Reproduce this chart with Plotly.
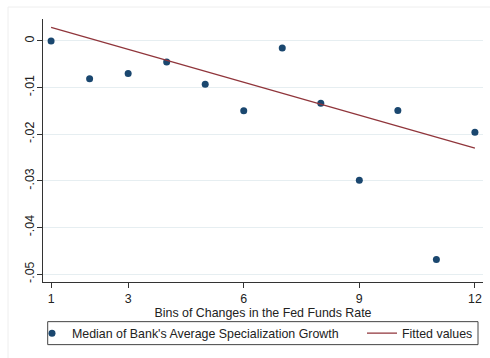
import plotly.graph_objects as go

# Data
bins = [1, 2, 3, 4, 5, 6, 7, 8, 9, 10, 11, 12]
median_growth = [0.0, -0.0081, -0.0070, -0.0045, -0.0093, -0.0150,
                 -0.0015, -0.01335, -0.0299, -0.0149, -0.0469, -0.0196]
fit_x = [1, 12]
fit_y = [0.0029, -0.0230]

x_ticks = [1, 3, 6, 9, 12]
y_ticks = [0, -0.01, -0.02, -0.03, -0.04, -0.05]
y_tick_labels = ["0", "-.01", "-.02", "-.03", "-.04", "-.05"]

navy = "#1a476f"
maroon = "#90353b"
font_family = "Arial, Liberation Sans, sans-serif"
fs = 12.4

# plot area geometry (pixels) used to place the legend in paper coords
PL, PR, PT, PB = 43, 483, 19, 282.3
PW, PH = PR - PL, PB - PT

def px_x(p):
    return (p - PL) / PW

def px_y(p):
    return (PB - p) / PH

fig = go.Figure()
fig.add_trace(go.Scatter(
    x=bins, y=median_growth, mode="markers",
    marker=dict(color=navy, size=7),
    name="Median of Bank's Average Specialization Growth",
    legend="legend",
))
fig.add_trace(go.Scatter(
    x=fit_x, y=fit_y, mode="lines",
    line=dict(color=maroon, width=1.2),
    name="Fitted values",
    legend="legend2",
))

leg_common = dict(
    orientation="h", yanchor="middle", y=px_y(334),
    bgcolor="rgba(0,0,0,0)", borderwidth=0, itemwidth=30,
    font=dict(size=fs, family=font_family, color="#222"),
)

fig.update_layout(
    width=490, height=358,
    margin=dict(l=PL, r=490 - PR, t=PT, b=358 - PB, autoexpand=False),
    paper_bgcolor="white", plot_bgcolor="white",
    font=dict(family=font_family, size=fs, color="#222"),
    showlegend=True,
    legend=dict(x=px_x(32), xanchor="left", **leg_common),
    legend2=dict(x=px_x(362), xanchor="left", **leg_common),
    shapes=[
        dict(type="rect", xref="paper", yref="paper",
             x0=px_x(8), x1=px_x(495), y0=px_y(365), y1=px_y(7),
             line=dict(color="#eeeeee", width=1), layer="below"),
        dict(type="rect", xref="paper", yref="paper",
             x0=px_x(47.7), x1=px_x(478), y0=px_y(345), y1=px_y(322),
             line=dict(color="#444", width=1), layer="below"),
    ],
)
fig.update_xaxes(
    range=[0.79, 12.21], tickvals=x_ticks, ticks="outside", ticklen=5,
    tickcolor="#333", showline=True, linecolor="#333", linewidth=1,
    showgrid=False, zeroline=False,
    title=dict(text="Bins of Changes in the Fed Funds Rate", standoff=0,
               font=dict(size=fs, family=font_family, color="#222")),
    tickfont=dict(size=fs, family=font_family, color="#222"),
)
fig.update_yaxes(
    range=[-0.0517, 0.0047], tickvals=y_ticks, ticktext=y_tick_labels,
    tickangle=-90, ticks="outside", ticklen=5, tickcolor="#333",
    ticklabelstandoff=-2,
    showline=True, linecolor="#333", linewidth=1,
    showgrid=True, gridcolor="#e6eef1", gridwidth=1, zeroline=False,
    tickfont=dict(size=fs, family=font_family, color="#222"),
)

fig.write_html("out.html")
